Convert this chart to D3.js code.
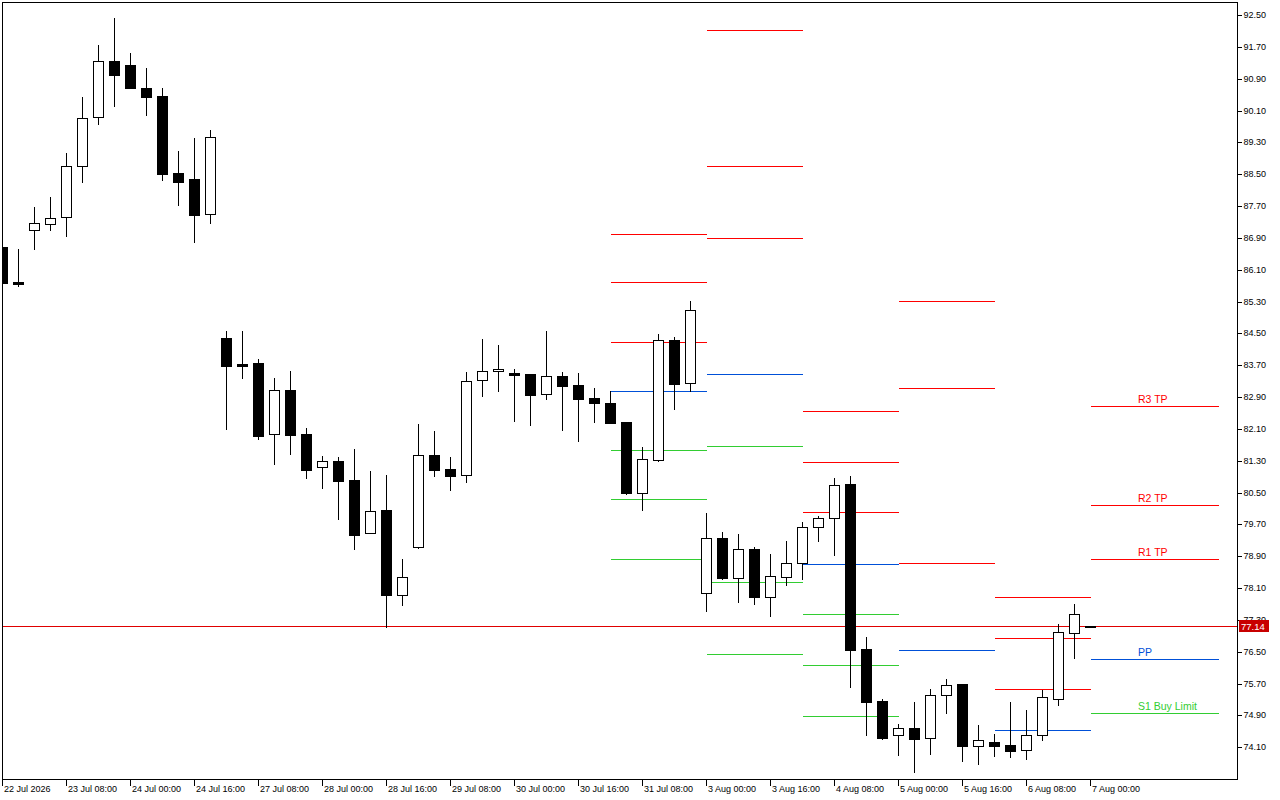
<!DOCTYPE html>
<html>
<head>
<meta charset="utf-8">
<script src="https://cdn.jsdelivr.net/npm/d3@7"></script>
<style>
  html, body { margin: 0; padding: 0; background: #fff; }
  svg { display: block; }
  text { font-family: "Liberation Sans", Arial, sans-serif; }
</style>
</head>
<body>
<div id="chart"></div>
<script>
// H4 bars, 22 Jul 2026 16:00 -> 7 Aug 2026 00:00
const opens  = [86.66,85.78,87.09,87.24,87.42,88.70,89.93,91.34,91.24,90.66,90.46,88.52,88.37,87.49,
                84.38,83.74,83.75,81.96,83.07,81.96,81.14,81.29,80.81,79.48,80.06,77.93,79.14,81.44,
                81.09,80.93,83.32,83.55,83.50,83.48,82.97,83.42,83.20,82.87,82.75,82.27,80.50,81.33,
                84.33,83.25,77.97,79.35,78.35,79.08,77.88,78.39,78.72,79.63,79.85,80.71,76.57,75.26,
                74.40,74.58,74.34,75.41,75.69,74.13,74.23,74.15,74.03,74.40,75.31,76.96,77.16];
const highs  = [86.68,86.62,87.67,87.93,89.03,90.44,91.75,92.42,91.54,91.16,90.66,89.08,89.40,89.60,
                84.56,84.56,83.85,83.37,83.55,82.12,81.42,81.39,81.60,81.04,80.94,78.83,82.22,82.05,
                81.39,83.53,84.36,84.21,83.60,83.49,84.56,83.53,83.50,83.12,83.05,82.28,81.65,84.48,
                84.41,85.31,79.98,79.50,79.46,79.13,78.96,79.28,79.76,79.91,80.87,80.92,76.87,75.31,
                74.69,75.24,75.57,75.82,75.70,74.66,74.43,75.23,75.03,75.54,77.19,77.70,77.16];
const lows   = [85.75,85.70,86.63,87.11,86.95,88.31,89.77,90.22,90.66,90.00,88.36,87.73,86.80,87.28,
                82.09,83.39,81.85,81.23,81.48,80.87,80.62,79.84,79.09,79.48,77.12,77.68,79.12,80.92,
                80.57,80.77,82.93,83.06,82.31,82.21,82.85,82.08,81.80,82.28,82.25,80.47,80.07,81.30,
                82.60,83.05,77.53,78.34,77.76,77.71,77.41,78.19,78.33,79.28,78.94,75.62,74.42,74.32,
                73.91,73.49,73.94,74.97,73.76,73.69,73.89,73.86,73.81,74.29,75.17,76.35,77.14];
const closes = [85.77,85.73,87.27,87.39,88.70,89.90,91.34,91.00,90.67,90.45,88.51,88.31,87.48,89.43,
                83.69,83.69,81.93,83.07,81.95,81.08,81.29,80.80,79.44,80.03,77.93,78.37,81.44,81.08,
                80.92,83.30,83.55,83.60,83.46,82.96,83.42,83.19,82.86,82.76,82.26,80.50,81.34,84.33,
                83.24,85.08,79.35,78.36,79.08,77.88,78.40,78.72,79.63,79.85,80.68,76.55,75.25,74.34,
                74.58,74.32,75.41,75.66,74.14,74.28,74.14,74.02,74.40,75.36,76.99,77.44,77.14];

const lastPrice = 77.14;

// time axis labels (every 4th bar)
const tickIdx    = [0,4,8,12,16,20,24,28,32,36,40,44,48,52,56,60,64,68];
const tickLabels = ["22 Jul 2026","23 Jul 08:00","24 Jul 00:00","24 Jul 16:00","27 Jul 08:00",
                    "28 Jul 00:00","28 Jul 16:00","29 Jul 08:00","30 Jul 00:00","30 Jul 16:00",
                    "31 Jul 08:00","3 Aug 00:00","3 Aug 16:00","4 Aug 08:00","5 Aug 00:00",
                    "5 Aug 16:00","6 Aug 08:00","7 Aug 00:00"];

const priceTicks = [74.10,74.90,75.70,76.50,77.30,78.10,78.90,79.70,80.50,81.30,82.10,82.90,
                    83.70,84.50,85.30,86.10,86.90,87.70,88.50,89.30,90.10,90.90,91.70,92.50];

// daily pivot levels (null = off chart)
const pivotDays  = ["31 Jul","3 Aug","4 Aug","5 Aug","6 Aug","7 Aug"];
const pivotStart = [38, 44, 50, 56, 62, 68];
const pivotEnd   = [44, 50, 56, 62, 68, 76];
const R3 = [86.99, 92.12, 82.54, 85.31, 77.87, 82.67];
const R2 = [85.78, 88.71, 81.26, 83.12, 76.84, 80.18];
const R1 = [84.28, 86.89, 80.01, 78.72, 75.56, 78.82];
const PP = [83.05, 83.47, 78.70, 76.54, 74.53, 76.31];
const S1 = [81.56, 81.66, 77.44, null, null, 74.96];
const S2 = [80.33, 78.25, 76.16, null, null, null];
const S3 = [78.82, 76.44, 74.88, null, null, null];

const levelLabels = {R3: "R3 TP", R2: "R2 TP", R1: "R1 TP", PP: "PP", S1: "S1 Buy Limit"};

const RED = "#ff0000", BLUE = "#0050d8", GREEN = "#32cd32";

const W = 1280, H = 800;
const plot = {left: 2, top: 2, right: 1237, bottom: 779};

const svg = d3.select("#chart").append("svg")
  .attr("width", W).attr("height", H)
  .style("background", "#fff");

const x = d3.scaleLinear().domain([0, 68]).range([2.5, 1090.5]);
const y = d3.scaleLinear().domain([73.304, 92.827]).range([plot.bottom, plot.top]);
const py = v => Math.round(y(v)) + 0.5;

svg.append("clipPath").attr("id", "clip")
  .append("rect")
    .attr("x", plot.left).attr("y", plot.top)
    .attr("width", plot.right - plot.left).attr("height", plot.bottom - plot.top);

const g = svg.append("g").attr("clip-path", "url(#clip)");

// pivot segments
const levels = [];
[["R3", R3, RED], ["R2", R2, RED], ["R1", R1, RED], ["PP", PP, BLUE],
 ["S1", S1, GREEN], ["S2", S2, GREEN], ["S3", S3, GREEN]].forEach(([name, arr, color]) => {
  arr.forEach((v, i) => {
    if (v == null) return;
    levels.push({name, v, color, x0: pivotStart[i], x1: pivotEnd[i], last: i === pivotDays.length - 1});
  });
});

g.selectAll(".level")
  .data(levels)
  .enter().append("line")
    .attr("class", "level")
    .attr("x1", d => x(d.x0)).attr("x2", d => x(d.x1))
    .attr("y1", d => py(d.v)).attr("y2", d => py(d.v))
    .attr("stroke", d => d.color)
    .attr("stroke-width", 1)
    .attr("shape-rendering", "crispEdges");

g.selectAll(".level-label")
  .data(levels.filter(d => d.last))
  .enter().append("text")
    .attr("class", "level-label")
    .attr("x", 1138)
    .attr("y", d => py(d.v) - 3.5)
    .attr("font-size", "10.5px")
    .attr("fill", d => d.color)
    .text(d => levelLabels[d.name]);

// current price line
g.append("line")
  .attr("x1", plot.left).attr("x2", plot.right)
  .attr("y1", py(lastPrice)).attr("y2", py(lastPrice))
  .attr("stroke", "#e00000")
  .attr("shape-rendering", "crispEdges");

// candles
const bars = opens.map((o, i) => ({i, o, h: highs[i], l: lows[i], c: closes[i]}));

const candle = g.selectAll(".candle")
  .data(bars)
  .enter().append("g")
    .attr("class", "candle");

candle.append("line")
  .attr("x1", d => x(d.i)).attr("x2", d => x(d.i))
  .attr("y1", d => Math.round(y(d.h)))
  .attr("y2", d => Math.round(y(d.l)) + 1)
  .attr("stroke", "#000")
  .attr("shape-rendering", "crispEdges");

candle.append("rect")
  .attr("x", d => x(d.i) - 5)
  .attr("width", 10)
  .attr("y", d => py(Math.max(d.o, d.c)))
  .attr("height", d => Math.max(1, py(Math.min(d.o, d.c)) - py(Math.max(d.o, d.c))))
  .attr("fill", d => d.c >= d.o ? "#fff" : "#000")
  .attr("stroke", "#000")
  .attr("stroke-width", 1)
  .attr("shape-rendering", "crispEdges");

// frame
svg.append("rect")
  .attr("x", plot.left + 0.5).attr("y", plot.top + 0.5)
  .attr("width", plot.right - plot.left).attr("height", plot.bottom - plot.top)
  .attr("fill", "none").attr("stroke", "#000")
  .attr("shape-rendering", "crispEdges");

// price axis
const yAxis = svg.append("g")
  .attr("transform", `translate(${plot.right + 0.5},0)`)
  .call(d3.axisRight(y).tickValues(priceTicks).tickSize(4).tickPadding(2)
    .tickFormat(d3.format(".2f")));
yAxis.select(".domain").remove();
yAxis.selectAll(".tick").attr("transform", d => `translate(0,${py(d)})`);
yAxis.selectAll(".tick line").attr("stroke", "#000").attr("shape-rendering", "crispEdges");
yAxis.selectAll(".tick text")
  .attr("font-family", "'Liberation Sans', Arial, sans-serif")
  .attr("font-size", "9px").attr("fill", "#000");

// time axis
const xAxis = svg.append("g")
  .attr("transform", `translate(0,${plot.bottom + 0.5})`)
  .call(d3.axisBottom(x).tickValues(tickIdx).tickSize(6)
    .tickFormat((d, i) => tickLabels[i]));
xAxis.select(".domain").remove();
xAxis.selectAll(".tick").attr("transform", d => `translate(${Math.floor(x(d)) + 0.5 - (d === 0 ? 0 : 0)},0)`);
xAxis.selectAll(".tick line").attr("stroke", "#000").attr("shape-rendering", "crispEdges");
xAxis.selectAll(".tick text")
  .attr("text-anchor", "start")
  .attr("x", 1.5).attr("y", 5).attr("dy", "0.8em")
  .attr("font-family", "'Liberation Sans', Arial, sans-serif")
  .attr("font-size", "9px").attr("fill", "#000");

// last price tag
const tagY = Math.round(y(lastPrice));
svg.append("rect")
  .attr("x", plot.right + 2).attr("y", tagY - 6)
  .attr("width", 30).attr("height", 12)
  .attr("fill", "#c80000");
svg.append("text")
  .attr("x", plot.right + 4).attr("y", tagY + 4)
  .attr("font-size", "9.5px").attr("fill", "#fff")
  .text(d3.format(".2f")(lastPrice));
</script>
</body>
</html>
